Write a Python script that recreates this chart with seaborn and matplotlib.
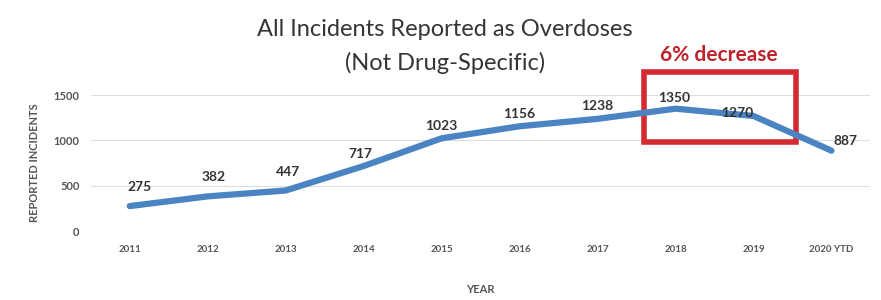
import matplotlib
matplotlib.use("Agg")
import matplotlib.pyplot as plt
import seaborn as sns
import pandas as pd
from matplotlib.patches import Rectangle

years = ["2011", "2012", "2013", "2014", "2015", "2016", "2017", "2018", "2019", "2020 YTD"]
incidents = [275, 382, 447, 717, 1023, 1156, 1238, 1350, 1270, 887]
yticks = [0, 500, 1000, 1500]

sns.set_theme(style="white")
plt.rcParams['font.family'] = ['Lato', 'DejaVu Sans']

df = pd.DataFrame({"year": years, "incidents": incidents})
df["pos"] = range(len(years))

fig = plt.figure(figsize=(8.81, 3.0), dpi=100)
ax = fig.add_axes([0.103, 0.23, 0.885, 0.453])

sns.lineplot(data=df, x="pos", y="incidents", ax=ax, color="#4a84c2",
             linewidth=4.5, solid_capstyle="round", solid_joinstyle="round")

ax.set_xlim(-0.5, 9.5)
ax.set_ylim(0, 1500)
ax.set_yticks(yticks)
ax.set_yticklabels([str(v) for v in yticks], fontsize=8, fontweight="bold", color="#555555")
ax.set_xticks(df["pos"])
ax.set_xticklabels(years, fontsize=7, fontweight="bold", color="#555555")
ax.tick_params(axis="x", pad=10, length=0)
ax.tick_params(axis="y", pad=8, length=0)
ax.grid(axis="y", color="#dddddd", linewidth=0.8)
for s in ax.spines.values():
    s.set_visible(False)

ax.set_xlabel("YEAR", fontsize=8, fontweight="bold", color="#555555", labelpad=22)
ax.set_ylabel("REPORTED INCIDENTS", fontsize=8, fontweight="bold", color="#555555", labelpad=10)

offsets = [(7, 14), (4, 14), (2, 13), (-2, 9), (0, 9), (0, 9), (0, 9), (-1, 8), (-12, 2), (10, 7)]
for (dx, dy), p, v in zip(offsets, df["pos"], incidents):
    ax.annotate(str(v), (p, v), xytext=(dx, dy), textcoords="offset points",
                ha="center", va="center", fontsize=10, fontweight="bold", color="#333333")

rect = Rectangle((6.6, 981), 1.95, 770, fill=False, edgecolor="#d42a32",
                 linewidth=4, clip_on=False)
ax.add_patch(rect)
ax.text(7.55, 1830, "6% decrease", ha="center", va="bottom", fontsize=15,
        fontweight="bold", color="#c0222c", clip_on=False)

fig.text(0.505, 0.9, "All Incidents Reported as Overdoses", ha="center", va="center",
         fontsize=17, color="#353535")
fig.text(0.505, 0.79, "(Not Drug-Specific)", ha="center", va="center",
         fontsize=17, color="#353535")

fig.savefig("out.png", dpi=100, facecolor="white")
